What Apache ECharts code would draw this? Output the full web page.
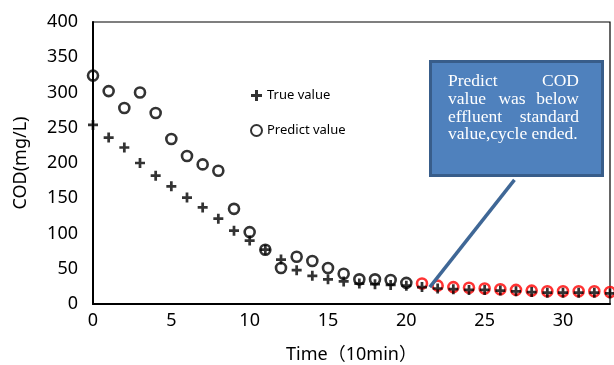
<!DOCTYPE html>
<html>
<head>
<meta charset="utf-8">
<script src="https://cdn.jsdelivr.net/npm/echarts@6/dist/echarts.min.js"></script>
<style>
  html, body { margin: 0; padding: 0; background: #fff; }
  #chart { width: 614px; height: 365px; }
</style>
</head>
<body>
<div id="chart"></div>
<script>
  // time steps (10 min)
  var timeSteps = [0, 1, 2, 3, 4, 5, 6, 7, 8, 9, 10, 11, 12, 13, 14, 15, 16,
    17, 18, 19, 20, 21, 22, 23, 24, 25, 26, 27, 28, 29, 30, 31, 32, 33];
  var trueValues = [254, 236, 222, 200, 182, 167, 151, 137, 121, 104, 90, 77,
    63, 48, 40, 35, 32, 29, 28, 27, 26, 24, 22, 21, 20, 20, 19, 18, 17, 16, 16, 16, 16, 15];
  var predictValues = [324, 302, 278, 300, 271, 234, 210, 198, 189, 135, 102, 77,
    51, 67, 61, 51, 43, 35, 35, 34, 30, 29, 26, 24, 23, 22, 21, 20, 19, 18, 18, 18, 18, 17];
  var endIndex = 21; // predicted value below standard from here on
  var yTicks = [0, 50, 100, 150, 200, 250, 300, 350, 400];
  var xTicks = [0, 5, 10, 15, 20, 25, 30];

  var plusIcon = 'path://M4,0H7V4H11V7H7V11H4V7H0V4H4Z';

  var truePts = timeSteps.map(function (t, i) { return [t, trueValues[i]]; });
  var predPts = [], predEndPts = [];
  timeSteps.forEach(function (t, i) {
    if (i < endIndex) predPts.push([t, predictValues[i]]);
    else predEndPts.push([t, predictValues[i]]);
  });

  var myChart = echarts.init(document.getElementById('chart'));
  var option = {
    animation: false,
    textStyle: { fontFamily: 'Noto Sans' },
    grid: {
      left: 93, right: 4, top: 22, bottom: 61,
      outerBoundsMode: 'none',
      containLabel: false,
      show: true,
      borderColor: '#000',
      borderWidth: 1.2
    },
    legend: {
      orient: 'vertical',
      left: 245,
      top: 84,
      itemWidth: 11,
      itemHeight: 11,
      itemGap: 22,
      textStyle: { fontSize: 13, color: '#000' },
      data: ['True value', 'Predict value']
    },
    xAxis: {
      type: 'value',
      min: 0,
      max: 33,
      interval: 5,
      name: 'Time（10min）',
      nameLocation: 'middle',
      nameGap: 42,
      nameTextStyle: { fontSize: 18, color: '#000', fontFamily: 'Noto Sans, Noto Sans CJK SC' },
      axisLine: { lineStyle: { color: '#000', width: 2 } },
      axisTick: { show: false },
      splitLine: { show: false },
      axisLabel: {
        fontSize: 18, color: '#000', margin: 8,
        showMaxLabel: false,
        formatter: function (v) { return xTicks.indexOf(v) >= 0 ? v : ''; }
      }
    },
    yAxis: {
      type: 'value',
      min: yTicks[0],
      max: yTicks[yTicks.length - 1],
      interval: 50,
      name: 'COD(mg/L)',
      nameLocation: 'middle',
      nameGap: 63,
      nameTextStyle: { fontSize: 18, color: '#000' },
      axisLine: { show: true, lineStyle: { color: '#000', width: 2 } },
      axisTick: { show: false },
      splitLine: { show: false },
      axisLabel: { fontSize: 18, color: '#000', margin: 15 }
    },
    series: [{
      name: 'Predict value',
      type: 'scatter',
      symbol: 'circle',
      symbolSize: 10,
      data: predPts,
      itemStyle: { color: 'rgba(255,255,255,0)', borderColor: '#000', borderWidth: 2.6 }
    }, {
      name: 'Predict end',
      type: 'scatter',
      symbol: 'circle',
      symbolSize: 10,
      data: predEndPts,
      itemStyle: { color: 'rgba(255,255,255,0)', borderColor: '#ff0000', borderWidth: 2.6 }
    }, {
      name: 'True value',
      type: 'scatter',
      symbol: plusIcon,
      symbolSize: 10,
      data: truePts,
      itemStyle: { color: '#000' },
      markLine: {
        silent: true,
        symbol: ['none', 'none'],
        label: { show: false },
        lineStyle: { color: '#3f6796', width: 3.5, type: 'solid' },
        data: [[{ coord: [26.9, 176] }, { coord: [21.5, 24] }]]
      }
    }],
    graphic: [{
      type: 'rect',
      left: 429, top: 60,
      shape: { width: 172, height: 114 },
      style: { fill: '#4f81bd', stroke: '#385d8a', lineWidth: 3 }
    }].concat([
      ['Predict', 448, 81, 'left'], ['COD', 579, 81, 'right'],
      ['value', 448, 99, 'left'], ['was', 512, 99, 'center'], ['below', 579, 99, 'right'],
      ['effluent', 448, 117, 'left'], ['standard', 579, 117, 'right'],
      ['value,cycle ended.', 448, 134, 'left']
    ].map(function (w) {
      return {
        type: 'text', x: w[1], y: w[2],
        style: {
          text: w[0], fill: '#fff', align: w[3], verticalAlign: 'middle',
          font: '17.5px "Liberation Serif", serif'
        }
      };
    }))
  };
  myChart.setOption(option);
  window.addEventListener('resize', function () { myChart.resize(); });
</script>
</body>
</html>
